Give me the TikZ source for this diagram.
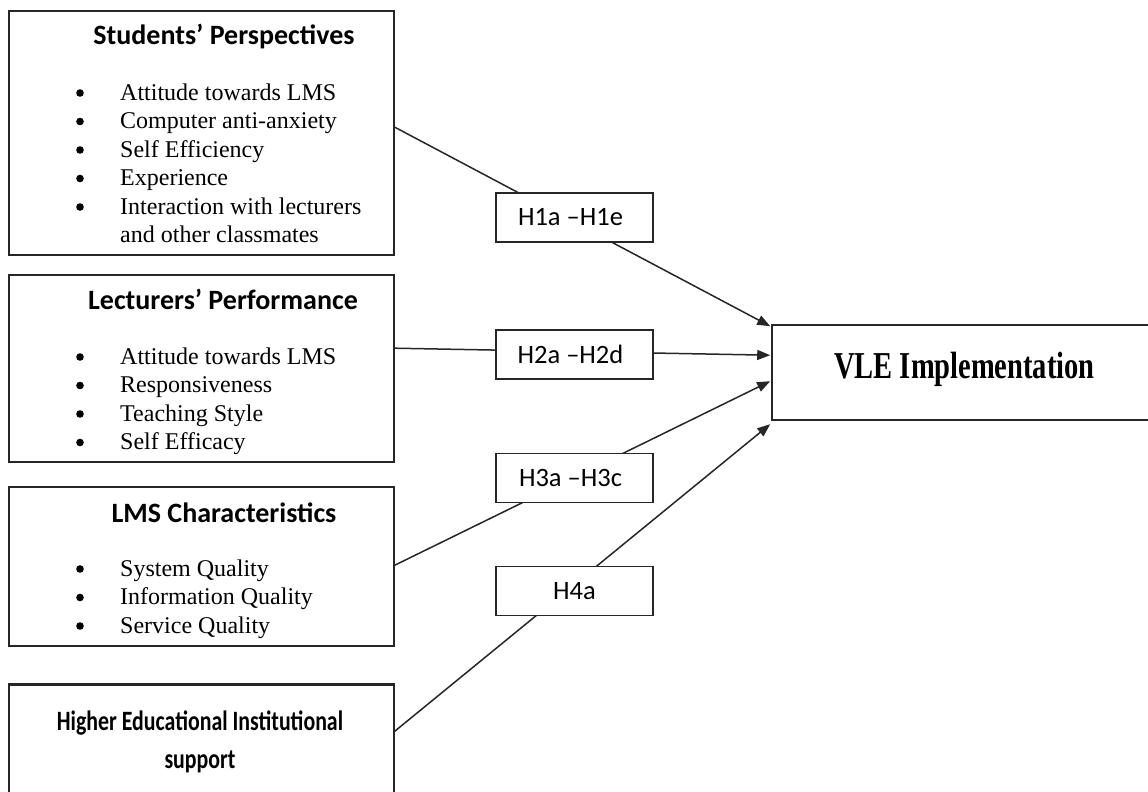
\documentclass[tikz,border=0pt]{standalone}
\usepackage{fontspec}
\usepackage{graphicx}
\setmainfont{Liberation Serif}
\newfontfamily\headfont{Carlito}
\usetikzlibrary{arrows.meta,calc}
\begin{document}
\begin{tikzpicture}[x=1pt,y=-1pt,
  frame/.style={draw=black!85,line width=1.6pt,fill=white,inner sep=0pt},
  hypbox/.style={frame,minimum width=157pt,minimum height=49pt,
    font=\headfont\fontsize{26.5}{30}\selectfont},
  heading/.style={anchor=base,inner sep=0pt,
    font=\headfont\bfseries\fontsize{28}{32}\selectfont},
  items/.style={anchor=base west,inner sep=0pt,
    font=\fontsize{24}{28.5}\selectfont},
  dot/.style={fill=black,draw=none},
  link/.style={draw=black!85,line width=1.5pt,-{Triangle[length=13pt,width=10pt]}}
]
\useasboundingbox (0,0) rectangle (1148,792);
\clip (0,0) rectangle (1148,792);

% factor boxes on the left
\node[frame,minimum width=385pt,minimum height=244pt] (s1) at (201.5,133) {};
\node[frame,minimum width=385pt,minimum height=187pt] (s2) at (201.5,368.5) {};
\node[frame,minimum width=385pt,minimum height=159pt] (s3) at (201.5,566.5) {};
\node[frame,minimum width=385pt,minimum height=150pt] (s4) at (201.5,760) {};
\draw[line width=3.2pt,black!85] (s4.north west) -- (s4.north east);

% outcome box
\node[frame,minimum width=428pt,minimum height=95pt] (vle) at (986,372.5) {};
\node[anchor=base,inner sep=0pt,font=\bfseries\fontsize{38}{40}\selectfont] (vlet)
  at (964.5,378) {\scalebox{0.75}[1]{VLE Implementation}};

% headings
\node[heading] (t1) at (224,45) {Students’ Perspectives};
\node[heading] (t2) at (223,309) {Lecturers’ Performance};
\node[heading] (t3) at (224,522) {LMS Characteristics};
\node[heading] (t4) at (200,730) {\scalebox{0.78}[1]{Higher Educational Institutional}};
\node[heading] (t4b) at (200,768) {\scalebox{0.78}[1]{support}};

% bullet lists
\node[items] (l1) at (120,100) {\begin{tabular}[t]{@{}l@{}}
  Attitude towards LMS\\
  Computer anti-anxiety\\
  Self Efficiency\\
  Experience\\
  Interaction with lecturers\\
  and other classmates
\end{tabular}};
\node[items] (l2) at (120,364) {\begin{tabular}[t]{@{}l@{}}
  Attitude towards LMS\\
  Responsiveness\\
  Teaching Style\\
  Self Efficacy
\end{tabular}};
\node[items] (l3) at (120,576) {\begin{tabular}[t]{@{}l@{}}
  System Quality\\
  Information Quality\\
  Service Quality
\end{tabular}};

% bullet marks
\foreach \k in {0,...,4} \fill[dot] (80,93+28.5*\k) circle (3.8);
\foreach \k in {0,...,3} \fill[dot] (80,357+28.5*\k) circle (3.8);
\foreach \k in {0,...,2} \fill[dot] (80,569+28.5*\k) circle (3.8);

% hypothesised paths
\draw[link] ($(s1.north east)+(0,117)$) -- ($(vle.north west)+(-1,2)$);
\draw[link] ($(s2.north east)+(0,74)$) -- ($(vle.north west)+(-1,31)$);
\draw[link] ($(s3.north east)+(0,79)$) -- ($(vle.north west)+(-1,57)$);
\draw[link] ($(s4.north east)+(0,47)$) -- ($(vle.north west)+(-1,100)$);

% hypothesis labels sitting on the paths
\node[hypbox] (h1) at (574.5,217.5) {\hspace*{-8pt}H1a –H1e};
\node[hypbox] (h2) at (574.5,354.5) {\hspace*{-8pt}H2a –H2d};
\node[hypbox] (h3) at (574.5,478) {\hspace*{-8pt}H3a –H3c};
\node[hypbox] (h4) at (574.5,591) {H4a};
\end{tikzpicture}
\end{document}
